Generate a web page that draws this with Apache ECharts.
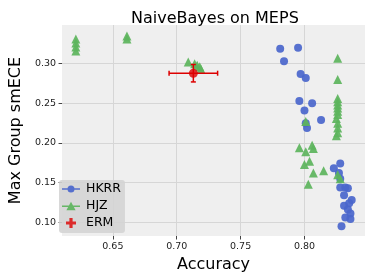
<!DOCTYPE html>
<html>
<head>
<meta charset="utf-8">
<script src="https://cdn.jsdelivr.net/npm/echarts@6/dist/echarts.min.js"></script>
<style>html,body{margin:0;padding:0;background:#fff}#c{width:374px;height:280px}</style>
</head>
<body>
<div id="c"></div>
<script>
const xTicks = [0.65, 0.70, 0.75, 0.80];
const yTicks = [0.10, 0.15, 0.20, 0.25, 0.30];

const hkrrAcc = [0.781,0.795,0.784,0.797,0.801,0.796,0.806,0.800,0.813,0.801,0.802,0.828,0.823,0.827,0.828,0.828,0.832,0.834,0.831,0.837,0.835,0.831,0.834,0.836,0.832,0.836,0.829];
const hkrrEce = [0.319,0.320,0.303,0.287,0.282,0.253,0.250,0.241,0.229,0.225,0.219,0.174,0.168,0.162,0.155,0.144,0.144,0.143,0.134,0.128,0.124,0.121,0.116,0.111,0.106,0.104,0.095];

const hjzAcc = [0.621,0.621,0.621,0.621,0.661,0.661,0.709,0.716,0.718,0.714,0.719,0.826,0.826,0.826,0.826,0.826,0.826,0.826,0.826,0.825,0.826,0.826,0.826,0.825,0.796,0.801,0.806,0.807,0.800,0.804,0.803,0.807,0.815,0.826,0.828,0.801];
const hjzEce = [0.331,0.326,0.321,0.316,0.335,0.331,0.302,0.298,0.296,0.300,0.293,0.307,0.280,0.256,0.252,0.248,0.244,0.240,0.236,0.231,0.225,0.219,0.213,0.209,0.194,0.189,0.197,0.193,0.173,0.177,0.148,0.162,0.165,0.160,0.155,0.227];

const ermAcc = [0.713];
const ermEce = [0.288];
const ermAccErr = [0.019];
const ermEceErr = [0.011];

const zip = (a, b) => a.map((v, i) => [v, b[i]]);

const chart = echarts.init(document.getElementById('c'), null, {renderer: 'canvas'});
const FONT = 'DejaVu Sans';
const iconCircle = 'path://M0,4.3H18V5.7H0Z M12.5,5A3.5,3.5 0 1 1 5.5,5A3.5,3.5 0 1 1 12.5,5Z';
const iconTri = 'path://M0,4.3H18V5.7H0Z M9,0.6L13.6,8.9L4.4,8.9Z';
const iconPlus = 'path://M3.4,0H6.6V3.4H10V6.6H6.6V10H3.4V6.6H0V3.4H3.4Z';

chart.setOption({
  animation: false,
  backgroundColor: '#ffffff',
  textStyle: {fontFamily: FONT},
  title: {
    text: 'NaiveBayes on MEPS',
    left: 126, top: 6,
    textStyle: {fontFamily: FONT, fontSize: 16, fontWeight: 'normal', color: '#000'}
  },
  grid: {left: 55, right: 9, top: 25, bottom: 44, show: true, backgroundColor: '#efefef', borderWidth: 0},
  legend: {
    orient: 'vertical', left: 59, top: 180,
    backgroundColor: 'rgba(212,212,212,0.9)', borderRadius: 3,
    padding: [2, 4, 3, 3], itemGap: 3, itemWidth: 18, itemHeight: 10,
    textStyle: {fontFamily: FONT, fontSize: 12.5, color: '#000', lineHeight: 14, padding: [0,0,0,1]},
    data: [
      {name: 'HKRR', icon: iconCircle, itemStyle: {color: '#4a66cc'}},
      {name: 'HJZ', icon: iconTri, itemStyle: {color: '#5cb45c'}},
      {name: 'ERM', icon: iconPlus, itemStyle: {color: '#dd0000'}}
    ]
  },
  xAxis: {
    type: 'value', min: 0.6102, max: 0.8474,
    name: 'Accuracy', nameLocation: 'middle', nameGap: 16,
    nameTextStyle: {fontFamily: FONT, fontSize: 16, color: '#000'},
    axisLine: {show: false},
    axisTick: {show: true, customValues: xTicks, length: 3.5, lineStyle: {color: '#444', width: 1}},
    axisLabel: {customValues: xTicks, margin: 6, fontSize: 9.5, color: '#222', fontFamily: FONT, formatter: v => v.toFixed(2)},
    splitLine: {show: true, lineStyle: {color: '#d6d6d6', width: 1}}
  },
  yAxis: {
    type: 'value', min: 0.0827, max: 0.3488,
    name: 'Max Group smECE', nameLocation: 'middle', nameGap: 30, nameRotate: 90,
    nameTextStyle: {fontFamily: FONT, fontSize: 16, color: '#000'},
    axisLine: {show: false},
    axisTick: {show: true, customValues: yTicks, length: 3.5, lineStyle: {color: '#444', width: 1}},
    axisLabel: {customValues: yTicks, margin: 6, fontSize: 9.5, color: '#222', fontFamily: FONT, formatter: v => v.toFixed(2)},
    splitLine: {show: true, lineStyle: {color: '#d6d6d6', width: 1}}
  },
  series: [
    {
      name: 'HKRR', type: 'scatter', symbol: 'circle', symbolSize: 8,
      itemStyle: {color: '#4a66cc', opacity: 0.92},
      data: zip(hkrrAcc, hkrrEce), z: 2
    },
    {
      name: 'HJZ', type: 'scatter', symbol: 'triangle', symbolSize: 9,
      itemStyle: {color: '#5cb45c', opacity: 0.92},
      data: zip(hjzAcc, hjzEce), z: 3
    },
    {
      name: 'ERMerr', type: 'custom', z: 4,
      encode: {x: 0, y: 1},
      data: ermAcc.map((v, i) => [v, ermEce[i], ermAccErr[i], ermEceErr[i]]),
      renderItem: (params, api) => {
        const x = api.value(0), y = api.value(1), xe = api.value(2), ye = api.value(3);
        const l = api.coord([x - xe, y]), r = api.coord([x + xe, y]);
        const t = api.coord([x, y + ye]), b = api.coord([x, y - ye]);
        const st = {stroke: '#dd0000', lineWidth: 1.5};
        const cap = 2.5;
        return {type: 'group', children: [
          {type: 'line', shape: {x1: l[0], y1: l[1], x2: r[0], y2: r[1]}, style: st},
          {type: 'line', shape: {x1: t[0], y1: t[1], x2: b[0], y2: b[1]}, style: st},
          {type: 'line', shape: {x1: l[0], y1: l[1] - cap, x2: l[0], y2: l[1] + cap}, style: st},
          {type: 'line', shape: {x1: r[0], y1: r[1] - cap, x2: r[0], y2: r[1] + cap}, style: st},
          {type: 'line', shape: {x1: t[0] - cap, y1: t[1], x2: t[0] + cap, y2: t[1]}, style: st},
          {type: 'line', shape: {x1: b[0] - cap, y1: b[1], x2: b[0] + cap, y2: b[1]}, style: st}
        ]};
      }
    },
    {
      name: 'ERM', type: 'scatter', symbol: 'circle', symbolSize: 9, z: 5,
      itemStyle: {color: '#dd0000'},
      data: zip(ermAcc, ermEce)
    }
  ]
});
</script>
</body>
</html>
